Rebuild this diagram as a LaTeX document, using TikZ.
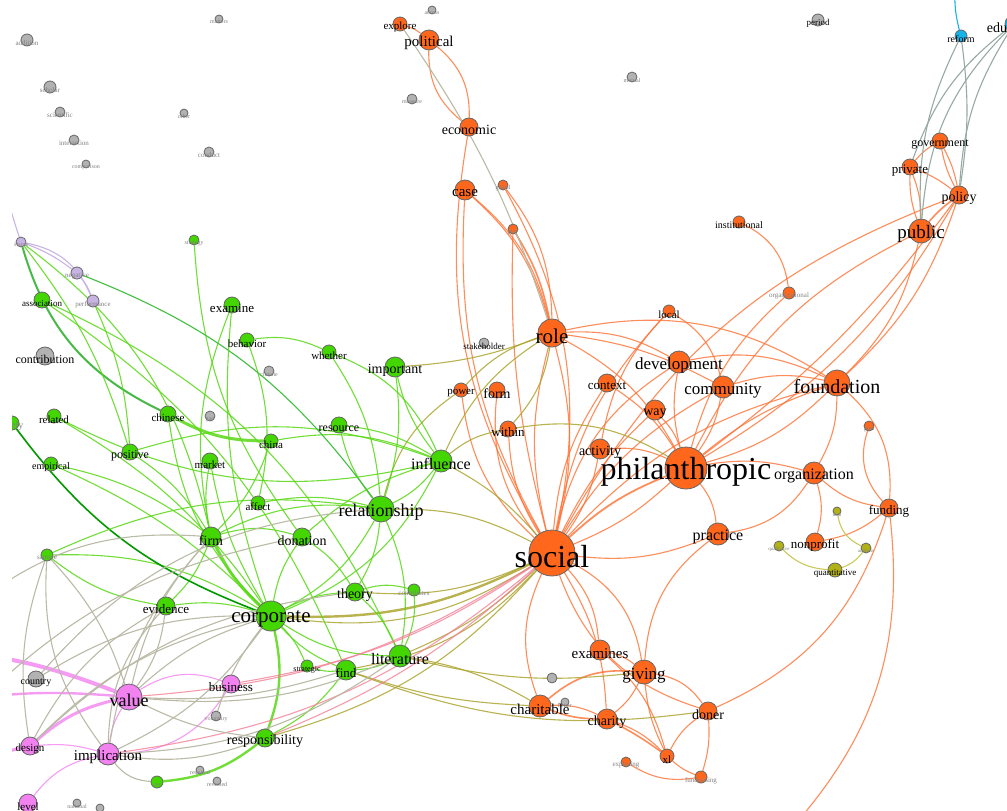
\documentclass[tikz,border=0pt]{standalone}
\usepackage{fontspec}
\setmainfont{Liberation Serif}
\usetikzlibrary{backgrounds}

\definecolor{orng}{RGB}{255,104,28}
\definecolor{grn}{RGB}{68,214,0}
\definecolor{pnk}{RGB}{242,130,240}
\definecolor{gry}{RGB}{178,178,178}
\definecolor{olv}{RGB}{178,178,20}
\definecolor{blu}{RGB}{20,180,232}
\definecolor{lav}{RGB}{200,180,228}
\definecolor{oline}{RGB}{255,112,50}
\definecolor{gline}{RGB}{88,216,20}
\definecolor{yline}{RGB}{172,164,48}
\definecolor{bline}{RGB}{186,186,166}
\definecolor{pline}{RGB}{246,128,150}
\definecolor{sline}{RGB}{150,170,162}

\begin{document}
\begin{tikzpicture}[
    x=1pt, y=-1pt,
    every node/.style={font=\rmfamily},
    word/.style={circle, draw=black!60, line width=0.8pt, inner sep=0pt, minimum size=#1},
    orangeword/.style={word=#1, fill=orng},
    greenword/.style={word=#1, fill=grn},
    pinkword/.style={word=#1, fill=pnk},
    grayword/.style={word=#1, fill=gry},
    oliveword/.style={word=#1, fill=olv},
    blueword/.style={word=#1, fill=blu},
    lavword/.style={word=#1, fill=lav},
    sz/.style={font=\fontsize{#1}{#1}\selectfont, anchor=base, yshift=-0.33em, text=black, inner sep=0pt},
    tiny/.style={font=\fontsize{#1}{#1}\selectfont, anchor=base, yshift=-0.33em, text=black!50, inner sep=0pt},
    orangelink/.style={draw=oline, line width=1.1pt, draw opacity=0.8},
    greenlink/.style={draw=gline, line width=1.1pt, draw opacity=0.85},
    olivelink/.style={draw=yline, line width=1.1pt, draw opacity=0.85},
    beigelink/.style={draw=bline, line width=1.1pt},
    pinklink/.style={draw=pline, line width=1.1pt, draw opacity=0.8},
    slatelink/.style={draw=sline, line width=1.1pt},
    lavlink/.style={draw=lav, line width=1.1pt}
]
\useasboundingbox (0,0) rectangle (1007,811);
\clip (12,0) rectangle (1007,811);

% gray words, top left
\node[grayword=12, label={[tiny=7]center:addition}] (addition) at (27,40) {};
\node[grayword=8, label={[tiny=6]center:matters}] (matters) at (219,19) {};
\node[grayword=12, label={[tiny=7]center:scholar}] (scholar) at (50,87) {};
\node[grayword=10, label={[tiny=7]center:scientific}] (scientific) at (60,112) {};
\node[grayword=8, label={[tiny=6]center:other}] (other) at (184,113) {};
\node[grayword=10, label={[tiny=7]center:interaction}] (interaction) at (74,140) {};
\node[grayword=8, label={[tiny=6]center:comparison}] (comparison) at (86,164) {};
\node[grayword=10, label={[tiny=7]center:conduct}] (conduct) at (209,152) {};
\node[grayword=8, label={[tiny=6]center:across}] (across) at (432,10) {};
\node[grayword=10, label={[tiny=6]center:measure}] (measure) at (412,99) {};
\node[grayword=10, label={[tiny=6]center:mutual}] (mutual) at (632,77) {};
\node[grayword=12, label={[sz=9]center:period}] (period) at (818,20) {};
\node[grayword=10, label={[sz=9]center:stakeholder}] (stakeholder) at (484,343) {};
\node[grayword=10, label={[tiny=6]center:climate}] (climate) at (269,371) {};
\node[grayword=10, label={[tiny=6]center:gap}] (gap) at (210,416) {};
\node[grayword=18, label={[sz=12]center:contribution}] (contribution) at (45,356) {};
\node[grayword=16, label={[sz=10]center:country}] (country) at (36,679) {};
\node[grayword=10, label={[tiny=6]center:voluntary}] (voluntary) at (216,716) {};
\node[grayword=8, label={[tiny=6]center:required}] (required) at (200,770) {};
\node[grayword=8, label={[tiny=6]center:revealed}] (revealed) at (217,781) {};
\node[grayword=8, label={[tiny=6]center:national}] (national) at (77,803) {};
\node[grayword=8] (regional) at (100,808) {};
\node[grayword=10] (use) at (552,678) {};
\node[grayword=8, label={[tiny=6]center:better}] (better) at (565,702) {};

% orange words
\node[orangeword=14, label={[sz=11]center:explore}] (explore) at (400,24) {};
\node[orangeword=20, label={[sz=15]center:political}] (political) at (429,40) {};
\node[orangeword=18, label={[sz=14]center:economic}] (economic) at (469,127) {};
\node[orangeword=20, label={[sz=15]center:case}] (case) at (465,190) {};
\node[orangeword=10, label={[tiny=6]center:global}] (global) at (503,185) {};
\node[orangeword=10, label={[tiny=6]center:play}] (play) at (513,229) {};
\node[orangeword=12, label={[sz=10]center:institutional}] (institutional) at (739,222) {};
\node[orangeword=12, label={[tiny=7]center:organizational}] (organizational) at (789,293) {};
\node[orangeword=16, label={[sz=12]center:government}] (government) at (940,141) {};
\node[orangeword=16, label={[sz=13]center:private}] (private) at (910,167) {};
\node[orangeword=18, label={[sz=14]center:policy}] (policy) at (959,195) {};
\node[orangeword=24, label={[sz=19]center:public}] (public) at (921,231) {};
\node[orangeword=12, label={[sz=11]center:local}] (local) at (669,311) {};
\node[orangeword=28, label={[sz=21]center:role}] (role) at (552,333) {};
\node[orangeword=14, label={[sz=11]center:power}] (power) at (461,390) {};
\node[orangeword=16, label={[sz=14]center:form}] (form) at (497,390) {};
\node[orangeword=16, label={[sz=13]center:within}] (within) at (508,429) {};
\node[orangeword=18, label={[sz=13]center:context}] (context) at (607,383) {};
\node[orangeword=22, label={[sz=17]center:development}] (development) at (679,362) {};
\node[orangeword=22, label={[sz=17]center:community}] (community) at (723,387) {};
\node[orangeword=20, label={[sz=14]center:way}] (way) at (655,410) {};
\node[orangeword=26, label={[sz=20]center:foundation}] (foundation) at (837,383) {};
\node[orangeword=20, label={[sz=14]center:activity}] (activity) at (600,449) {};
\node[orangeword=42, label={[sz=32]center:philanthropic}] (philanthropic) at (686,468) {};
\node[orangeword=22, label={[sz=16]center:organization}] (organization) at (814,473) {};
\node[orangeword=10, label={[tiny=6]center:goal}] (goal) at (869,426) {};
\node[orangeword=18, label={[sz=13]center:funding}] (funding) at (889,508) {};
\node[orangeword=22, label={[sz=16]center:practice}] (practice) at (718,534) {};
\node[orangeword=18, label={[sz=13]center:nonprofit}] (nonprofit) at (815,542) {};
\node[orangeword=46, label={[sz=32]center:social}] (social) at (552,553) {};
\node[orangeword=20, label={[sz=15]center:examines}] (examines) at (600,650) {};
\node[orangeword=24, label={[sz=17]center:giving}] (giving) at (644,672) {};
\node[orangeword=22, label={[sz=15]center:charitable}] (charitable) at (540,706) {};
\node[orangeword=20, label={[sz=14]center:charity}] (charity) at (607,719) {};
\node[orangeword=18, label={[sz=14]center:doner}] (doner) at (708,711) {};
\node[orangeword=14, label={[sz=11]center:xl}] (xl) at (667,756) {};
\node[orangeword=10, label={[tiny=7]center:exploring}] (exploring) at (626,762) {};
\node[orangeword=12, label={[tiny=7]center:fundraising}] (fundraising) at (701,777) {};

% olive words
\node[oliveword=8, label={[tiny=5]center:data}] (data) at (837,511) {};
\node[oliveword=10, label={[tiny=5]center:qualitative}] (qualitative) at (779,546) {};
\node[oliveword=10, label={[tiny=5]center:analysis}] (analysis) at (866,548) {};
\node[oliveword=14, label={[sz=9]center:quantitative}] (quantitative) at (835,570) {};

% blue words
\node[blueword=12, label={[sz=10]center:reform}] (reform) at (961,36) {};
\node[blueword=18, label={[sz=14]center:education}] (education) at (1014,24) {};

% lavender words
\node[lavword=10, label={[tiny=6]center:status}] (status) at (21,242) {};
\node[lavword=12, label={[tiny=7]center:negative}] (negative) at (77,273) {};
\node[lavword=12, label={[tiny=7]center:performance}] (performance) at (93,301) {};

% green words
\node[greenword=10, label={[tiny=6]center:strategy}] (strategy) at (194,240) {};
\node[greenword=16, label={[sz=13]center:examine}] (examine) at (232,305) {};
\node[greenword=14, label={[sz=11]center:behavior}] (behavior) at (247,340) {};
\node[greenword=14, label={[sz=11]center:whether}] (whether) at (329,352) {};
\node[greenword=20, label={[sz=14]center:important}] (important) at (395,367) {};
\node[greenword=16, label={[sz=9]center:association}] (association) at (42,300) {};
\node[greenword=16, label={[sz=11]center:chinese}] (chinese) at (168,414) {};
\node[greenword=14, label={[sz=11]center:china}] (china) at (271,441) {};
\node[greenword=16, label={[sz=12]center:resource}] (resource) at (339,425) {};
\node[greenword=22, label={[sz=16]center:influence}] (influence) at (441,461) {};
\node[greenword=14, label={[sz=11]center:related}] (related) at (54,416) {};
\node[greenword=14, label={[tiny=10]center:likely}] (likely) at (12,423) {};
\node[greenword=16, label={[sz=12]center:positive}] (positive) at (130,452) {};
\node[greenword=16, label={[sz=11]center:market}] (market) at (210,461) {};
\node[greenword=14, label={[sz=10]center:empirical}] (empirical) at (51,464) {};
\node[greenword=14, label={[sz=11]center:affect}] (affect) at (258,503) {};
\node[greenword=26, label={[sz=18]center:relationship}] (relationship) at (381,509) {};
\node[greenword=20, label={[sz=14]center:firm}] (firm) at (211,537) {};
\node[greenword=18, label={[sz=14]center:donation}] (donation) at (302,537) {};
\node[greenword=12, label={[tiny=7]center:sample}] (sample) at (47,555) {};
\node[greenword=18, label={[sz=14]center:theory}] (theory) at (355,592) {};
\node[greenword=12, label={[tiny=7]center:contributes}] (contributes) at (414,590) {};
\node[greenword=18, label={[sz=13]center:evidence}] (evidence) at (166,606) {};
\node[greenword=30, label={[sz=21]center:corporate}] (corporate) at (271,616) {};
\node[greenword=12, label={[sz=8]center:strategic}] (strategic) at (307,666) {};
\node[greenword=20, label={[sz=13]center:find}] (find) at (346,670) {};
\node[greenword=22, label={[sz=16]center:literature}] (literature) at (400,656) {};
\node[greenword=18, label={[sz=14]center:responsibility}] (responsibility) at (265,738) {};
\node[greenword=12, label={[tiny=6]center:csr}] (csr) at (157,782) {};

% pink words
\node[pinkword=26, label={[sz=18]center:value}] (value) at (129,697) {};
\node[pinkword=18, label={[sz=13]center:business}] (business) at (231,684) {};
\node[pinkword=22, label={[sz=15]center:implication}] (implication) at (108,754) {};
\node[pinkword=18, label={[sz=11]center:design}] (design) at (30,746) {};
\node[pinkword=18, label={[sz=11]center:level}] (level) at (28,803) {};

\coordinate (pinkwest) at (-60,650);
\coordinate (pinkwest2) at (-60,790);
\coordinate (pinkwest3) at (-40,700);
\coordinate (lavtop) at (0,70);
\coordinate (bluetop) at (955,-10);
\coordinate (fundsouth) at (790,830);
\coordinate (beigewest) at (-20,600);
\coordinate (beigewest2) at (-20,700);

\begin{scope}[on background layer]
\clip (12,0) rectangle (1007,811);
% orange links
\draw[orangelink] (social) to[bend left=14] (role);
\draw[orangelink] (social) to[bend right=14] (role);
\draw[orangelink, line width=1.8pt] (social) to[bend left=10] (philanthropic);
\draw[orangelink] (social) to[bend right=10] (philanthropic);
\draw[orangelink] (social) to[bend left=16] (foundation);
\draw[orangelink] (social) to[bend left=22] (development);
\draw[orangelink] (social) to[bend left=14] (community);
\draw[orangelink] (social) to[bend left=10] (way);
\draw[orangelink] (social) to[bend left=14] (context);
\draw[orangelink] (social) to[bend right=12] (activity);
\draw[orangelink] (social) to[bend left=16] (local);
\draw[orangelink] (social) to[bend left=20] (economic);
\draw[orangelink] (social) to[bend left=16] (case);
\draw[orangelink] (social) to[bend left=8] (play);
\draw[orangelink] (social) to[bend right=20] (global);
\draw[orangelink] (social) to[bend left=14] (within);
\draw[orangelink] (social) to[bend left=22] (form);
\draw[orangelink] (social) to[bend left=20] (power);
\draw[orangelink] (social) to[bend left=18] (examines);
\draw[orangelink] (social) to[bend left=26] (giving);
\draw[orangelink] (social) to[bend right=22] (charitable);
\draw[orangelink] (social) to[bend left=14] (charity);
\draw[orangelink] (social) to[bend right=26] (doner);
\draw[orangelink] (social) to[bend right=14] (practice);
\draw[orangelink] (social) to[bend left=20] (policy);
\draw[orangelink] (role) to[bend left=16] (philanthropic);
\draw[orangelink] (role) to[bend left=16] (development);
\draw[orangelink] (role) to[bend left=10] (community);
\draw[orangelink] (role) to[bend left=22] (foundation);
\draw[orangelink] (role) to[bend right=18] (case);
\draw[orangelink, line width=1.6pt] (role) to[bend right=10] (play);
\draw[orangelink] (philanthropic) to[bend left=10] (foundation);
\draw[orangelink] (philanthropic) to[bend right=14] (foundation);
\draw[orangelink] (philanthropic) to[bend left=18] (public);
\draw[orangelink] (philanthropic) to[bend right=14] (policy);
\draw[orangelink] (philanthropic) to[bend right=8] (policy);
\draw[orangelink] (philanthropic) to[bend right=12] (community);
\draw[orangelink] (philanthropic) to[bend left=12] (development);
\draw[orangelink] (philanthropic) to[bend right=12] (way);
\draw[orangelink] (philanthropic) to[bend right=12] (context);
\draw[orangelink] (philanthropic) to[bend right=14] (activity);
\draw[orangelink] (philanthropic) to[bend left=12] (organization);
\draw[orangelink] (philanthropic) to[bend left=16] (practice);
\draw[orangelink] (philanthropic) to[bend left=16] (organizational);
\draw[orangelink] (foundation) to[bend right=16] (public);
\draw[orangelink] (foundation) to[bend right=14] (policy);
\draw[orangelink] (foundation) to[bend left=14] (organization);
\draw[orangelink] (foundation) to[bend left=26] (funding);
\draw[orangelink] (foundation) to[bend right=14] (community);
\draw[orangelink] (foundation) to[bend right=18] (development);
\draw[orangelink] (public) to[bend left=10] (private);
\draw[orangelink] (public) to[bend right=10] (private);
\draw[orangelink, line width=1.6pt] (public) to[bend left=6] (policy);
\draw[orangelink] (private) to[bend left=8] (policy);
\draw[orangelink] (government) to[bend right=10] (private);
\draw[orangelink] (government) to[bend right=8] (policy);
\draw[orangelink] (government) to[bend left=8] (policy);
\draw[orangelink] (political) to[bend right=10] (explore);
\draw[orangelink] (political) to[bend right=26] (economic);
\draw[orangelink] (political) to[bend left=26] (economic);
\draw[orangelink] (institutional) to[bend left=28] (organizational);
\draw[orangelink] (organization) to[bend left=16] (nonprofit);
\draw[orangelink] (organization) to[bend left=24] (practice);
\draw[orangelink] (organization) to[bend right=16] (funding);
\draw[orangelink] (funding) to[bend left=30] (goal);
\draw[orangelink] (funding) to[bend left=14] (nonprofit);
\draw[orangelink] (funding) to[bend left=24] (fundsouth);
\draw[orangelink] (doner) to[bend right=24] (funding);
\draw[orangelink] (giving) to[bend right=12] (examines);
\draw[orangelink, line width=1.6pt] (giving) to[bend right=22] (charitable);
\draw[orangelink] (giving) to[bend left=12] (charity);
\draw[orangelink] (giving) to[bend left=22] (doner);
\draw[orangelink] (giving) to[bend right=10] (xl);
\draw[orangelink, line width=1.6pt] (charitable) to[bend right=10] (charity);
\draw[orangelink] (charitable) to[bend left=14] (charity);
\draw[orangelink, line width=1.6pt] (charity) to[bend left=4] (xl);
\draw[orangelink] (charity) to[bend left=12] (xl);
\draw[orangelink] (doner) to[bend right=14] (xl);
\draw[orangelink] (doner) to[bend left=10] (fundraising);
\draw[orangelink] (exploring) to[bend right=20] (fundraising);
\draw[orangelink] (xl) to[bend right=10] (fundraising);
\draw[orangelink] (practice) to[bend right=24] (giving);
\draw[orangelink] (examines) to[bend left=16] (xl);
\draw[orangelink] (local) to[bend right=16] (activity);
\draw[orangelink] (local) to[bend left=22] (community);
\draw[orangelink] (case) to[bend left=16] (role);
\draw[orangelink] (global) to[bend left=18] (role);
% olive links
\draw[olivelink, line width=2.4pt] (social) to[bend left=14] (corporate);
\draw[olivelink] (social) to[bend left=20] (corporate);
\draw[olivelink] (social) to[bend right=14] (relationship);
\draw[olivelink] (social) to[bend right=10] (influence);
\draw[olivelink] (social) to[bend left=14] (theory);
\draw[olivelink] (social) to[bend left=10] (literature);
\draw[olivelink] (social) to[bend left=18] (find);
\draw[olivelink] (social) to[bend left=16] (responsibility);
\draw[olivelink] (charitable) to[bend right=10] (literature);
\draw[olivelink] (charitable) to[bend left=8] (find);
\draw[olivelink] (giving) to[bend left=10] (literature);
\draw[olivelink] (doner) to[bend left=14] (find);
\draw[olivelink] (role) to[bend left=16] (within);
\draw[olivelink] (role) to[bend right=14] (power);
\draw[olivelink] (role) to[bend right=16] (influence);
\draw[olivelink] (important) to[bend right=8] (role);
\draw[olivelink] (within) to[bend left=20] (philanthropic);
\draw[olivelink] (within) to[bend right=14] (influence);
\draw[olivelink] (power) to[bend right=20] (relationship);
\draw[draw=olv!70, line width=1.1pt] (data) to[bend right=28] (analysis);
\draw[draw=olv!70, line width=1.1pt] (qualitative) to[bend right=20] (quantitative);
\draw[draw=olv!70, line width=1.1pt] (analysis) to[bend left=16] (quantitative);
% green links
\draw[greenlink, line width=3pt] (corporate) to[bend left=10] (firm);
\draw[greenlink, line width=3pt] (chinese) to[bend right=14] (china);
\draw[greenlink, line width=2.4pt] (corporate) to[bend left=16] (responsibility);
\draw[greenlink] (corporate) to[bend right=12] (evidence);
\draw[greenlink] (corporate) to[bend right=16] (relationship);
\draw[greenlink] (corporate) to[bend left=12] (theory);
\draw[greenlink] (corporate) to[bend right=16] (literature);
\draw[greenlink] (corporate) to[bend right=12] (find);
\draw[greenlink] (corporate) to[bend left=10] (strategic);
\draw[greenlink] (corporate) to[bend left=12] (donation);
\draw[greenlink] (corporate) to[bend right=20] (influence);
\draw[greenlink] (corporate) to[bend right=16] (sample);
\draw[greenlink] (corporate) to[bend left=18] (chinese);
\draw[greenlink] (corporate) to[bend left=10] (market);
\draw[greenlink] (firm) to[bend left=16] (relationship);
\draw[greenlink] (firm) to[bend right=12] (positive);
\draw[greenlink] (firm) to[bend left=10] (market);
\draw[greenlink] (firm) to[bend left=12] (evidence);
\draw[greenlink] (firm) to[bend left=16] (donation);
\draw[greenlink] (firm) to[bend left=16] (examine);
\draw[greenlink] (firm) to[bend right=12] (china);
\draw[greenlink] (relationship) to[bend right=12] (influence);
\draw[greenlink] (relationship) to[bend right=12] (important);
\draw[greenlink] (relationship) to[bend left=12] (resource);
\draw[greenlink] (relationship) to[bend left=12] (theory);
\draw[greenlink] (relationship) to[bend left=16] (literature);
\draw[greenlink] (relationship) to[bend right=14] (whether);
\draw[greenlink] (relationship) to[bend right=12] (affect);
\draw[greenlink] (influence) to[bend left=12] (important);
\draw[greenlink] (influence) to[bend right=12] (resource);
\draw[greenlink] (influence) to[bend right=22] (whether);
\draw[greenlink] (influence) to[bend right=16] (china);
\draw[greenlink] (influence) to[bend right=18] (positive);
\draw[greenlink] (behavior) to[bend left=16] (affect);
\draw[greenlink] (behavior) to[bend left=16] (whether);
\draw[greenlink] (strategy) to[bend right=16] (donation);
\draw[greenlink] (association) to[bend left=20] (literature);
\draw[greenlink] (association) to[bend left=16] (find);
\draw[draw=green!45!gray, line width=2pt] (status) to[bend right=24] (chinese);
\draw[greenlink] (status) to[bend left=10] (positive);
\draw[greenlink] (status) to[bend left=20] (firm);
\draw[draw=green!50!gray, line width=1.1pt] (negative) to[bend left=16] (relationship);
\draw[greenlink] (performance) to[bend left=10] (positive);
\draw[draw=green!60!black, line width=1.6pt] (likely) to[bend right=16] (corporate);
\draw[greenlink] (empirical) to[bend left=12] (firm);
\draw[greenlink] (empirical) to[bend left=10] (corporate);
\draw[greenlink] (related) to[bend right=20] (influence);
\draw[greenlink] (related) to[bend left=12] (corporate);
\draw[greenlink] (evidence) to[bend left=14] (sample);
\draw[greenlink] (sample) to[bend left=16] (relationship);
\draw[greenlink, line width=2.4pt] (responsibility) to[bend left=16] (csr);
\draw[greenlink] (responsibility) to[bend right=12] (find);
\draw[greenlink] (literature) to[bend left=12] (find);
\draw[greenlink] (literature) to[bend right=12] (theory);
\draw[greenlink] (literature) to[bend right=14] (contributes);
\draw[greenlink] (theory) to[bend left=16] (contributes);
\draw[greenlink] (find) to[bend left=12] (strategic);
\draw[greenlink] (theory) to[bend right=12] (donation);
\draw[greenlink] (donation) to[bend left=12] (influence);
\draw[greenlink] (examine) to[bend right=12] (corporate);
% pink links
\draw[pinklink, draw=pnk, line width=4pt] (pinkwest) to[bend left=8] (value);
\draw[pinklink, draw=pnk, line width=2.4pt] (pinkwest3) to[bend left=6] (value);
\draw[pinklink, draw=pnk, line width=3pt] (value) to[bend right=14] (design);
\draw[pinklink, draw=pnk, line width=3pt] (pinkwest2) to[bend left=14] (design);
\draw[pinklink, draw=pnk] (design) to[bend left=10] (implication);
\draw[pinklink, draw=pnk] (value) to[bend right=12] (implication);
\draw[pinklink, draw=pnk] (value) to[bend left=26] (business);
\draw[pinklink, draw=pnk] (implication) to[bend right=28] (business);
\draw[pinklink, draw=pnk] (level) to[bend left=20] (implication);
\draw[pinklink] (social) to[bend left=14] (value);
\draw[pinklink] (social) to[bend left=12] (business);
\draw[pinklink] (social) to[bend left=16] (implication);
\draw[pinklink] (social) to[bend left=10] (responsibility);
% beige links
\draw[beigelink] (evidence) to[bend left=14] (value);
\draw[beigelink] (evidence) to[bend right=16] (design);
\draw[beigelink] (firm) to[bend right=14] (value);
\draw[beigelink] (firm) to[bend right=16] (implication);
\draw[beigelink] (corporate) to[bend right=16] (design);
\draw[beigelink] (corporate) to[bend right=12] (value);
\draw[beigelink] (corporate) to[bend left=14] (implication);
\draw[beigelink] (country) to[bend left=16] (corporate);
\draw[beigelink] (sample) to[bend left=12] (value);
\draw[beigelink] (sample) to[bend right=14] (design);
\draw[beigelink] (value) to[bend right=14] (literature);
\draw[beigelink] (value) to[bend right=10] (find);
\draw[beigelink] (implication) to[bend right=16] (literature);
\draw[beigelink] (design) to[bend left=18] (theory);
\draw[beigelink] (country) to[bend left=22] (relationship);
\draw[beigelink] (value) to[bend right=10] (responsibility);
\draw[beigelink] (voluntary) to[bend left=10] (corporate);
\draw[beigelink] (implication) to[bend right=14] (responsibility);
\draw[beigelink] (implication) to[bend right=24] (csr);
\draw[beigelink] (beigewest) to[bend left=20] (firm);
\draw[beigelink] (beigewest2) to[bend left=16] (donation);
\draw[beigelink] (sample) to[bend right=20] (implication);
\draw[beigelink] (evidence) to[bend right=20] (implication);
\draw[beigelink] (explore) to[bend left=8] (role);
% slate and blue links
\draw[slatelink] (reform) to[bend right=14] (public);
\draw[slatelink] (reform) to[bend left=8] (policy);
\draw[slatelink] (education) to[bend right=20] (public);
\draw[slatelink] (education) to[bend right=14] (policy);
\draw[slatelink] (education) to[bend right=16] (private);
\draw[draw=blu, line width=1.1pt] (bluetop) to[bend right=8] (reform);
% lavender links
\draw[lavlink] (status) to[bend left=8] (negative);
\draw[lavlink] (status) to[bend left=28] (performance);
\draw[lavlink] (negative) to[bend left=10] (performance);
\draw[lavlink] (lavtop) to[bend right=12] (status);
\end{scope}
\end{tikzpicture}
\end{document}
